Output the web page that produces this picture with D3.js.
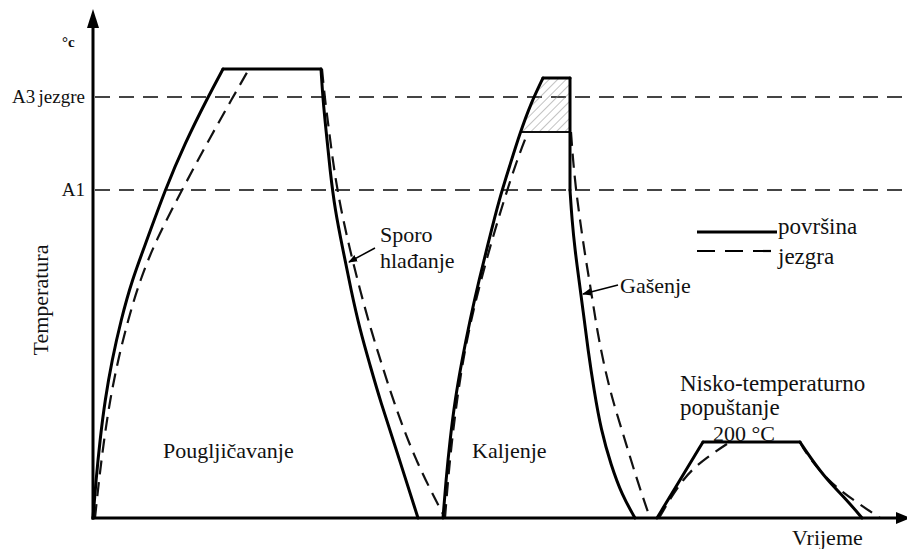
<!DOCTYPE html>
<html>
<head>
<meta charset="utf-8">
<script src="https://cdn.jsdelivr.net/npm/d3@7"></script>
<style>
  body { margin: 0; background: #fff; }
  svg { display: block; }
  text { font-family: "Liberation Serif", "Times New Roman", serif; fill: #111; }
</style>
</head>
<body>
<div id="chart"></div>
<script>
// vrijeme (t) i temperatura (T), u proizvoljnim jedinicama ocitanim sa slike
// površina = puna linija, jezgra = isprekidana
var povrsina = [
  // pougljičavanje
  [[0,0],[3,38],[7,78],[12,118],[19,158],[28,198],[39,238],[54,278],[72,328],[92,375],[115,421],[130,449]],
  [[130,449],[228,449]],
  [[228,449],[230,418],[233,388],[237,348],[242,308],[250,268],[258,228],[267,188],[277,153],[287,118],[305,63],[325,0]],
  // kaljenje
  [[350,0],[353,38],[357,78],[362,118],[369,158],[377,198],[386,238],[396,278],[406,318],[417,353],[427,385],[438,415],[450,440]],
  [[450,440],[477,440]],
  [[477,440],[477,328]],
  [[477,328],[479,298],[482,268],[486,238],[490,208],[495,168],[501,128],[508,88],[518,53],[529,23],[542,0]],
  // popuštanje
  [[564,0],[587,38],[610,76]],
  [[610,76],[707,76]],
  [[707,76],[717,61],[734,38],[754,18],[769,0]]
];
var jezgra = [
  [[2,0],[6,38],[11,78],[17,118],[25,158],[35,198],[47,238],[63,278],[89,328],[113,373],[140,421],[156,449]],
  [[156,449],[229,449]],
  [[229,449],[232,418],[236,388],[241,348],[248,308],[257,268],[267,228],[278,188],[289,153],[300,118],[322,58],[352,0]],
  [[352,0],[355,38],[359,78],[364,118],[370,158],[378,198],[388,238],[399,278],[411,318],[424,358],[435,386]],
  [[478,386],[480,358],[483,328],[487,298],[492,263],[498,228],[504,188],[512,148],[521,113],[532,78],[544,38],[557,0]],
  [[566,0],[590,41],[614,61],[637,76]],
  [[637,76],[707,76]],
  [[707,76],[712,66],[734,38],[760,18],[787,0]]
];
// jezgra dostigne samo ovu temperaturu pri kaljenju (šrafirano područje)
var kaljenjeJezgra = 386;
var kaljenjeVrh = 440;
var kaljenjeKraj = 477;
var kaljenjeRub = [[427,385],[438,415],[450,440]]; // lijevi rub šrafure (površina)

var granice = [
  { naziv: "A3 jezgre", T: 421 },
  { naziv: "A1", T: 328 }
];

var width = 907, height = 549;
var x0 = 93, y0 = 518;

var x = d3.scaleLinear().domain([0, 810]).range([x0, x0 + 810]);
var y = d3.scaleLinear().domain([0, 500]).range([y0, y0 - 500]);

var svg = d3.select("#chart").append("svg")
    .attr("width", width)
    .attr("height", height);

var defs = svg.append("defs");
var pat = defs.append("pattern")
    .attr("id", "srafura")
    .attr("patternUnits", "userSpaceOnUse")
    .attr("width", 6).attr("height", 6)
    .attr("patternTransform", "rotate(45)");
pat.append("line")
    .attr("x1", 0).attr("y1", 0).attr("x2", 0).attr("y2", 6)
    .attr("stroke", "#888").attr("stroke-width", 1);

// granicne linije A3, A1
svg.selectAll(".granica").data(granice).enter().append("line")
    .attr("class", "granica")
    .attr("x1", x0 + 2).attr("x2", width)
    .attr("y1", function(d) { return y(d.T); })
    .attr("y2", function(d) { return y(d.T); })
    .attr("stroke", "#444")
    .attr("stroke-width", 2)
    .attr("stroke-dasharray", "15,9");

svg.selectAll(".granicaTxt").data(granice).enter().append("text")
    .attr("x", x0 - 8)
    .attr("y", function(d) { return y(d.T) + 6; })
    .attr("text-anchor", "end")
    .style("font-size", "19px")
    .style("word-spacing", "-1.5px")
    .text(function(d) { return d.naziv; });

// šrafirano područje
var poly = kaljenjeRub.concat([[kaljenjeKraj, kaljenjeVrh], [kaljenjeKraj, kaljenjeJezgra]]);
svg.append("path")
    .attr("d", "M" + poly.map(function(p) { return x(p[0]) + "," + y(p[1]); }).join("L") + "Z")
    .attr("fill", "url(#srafura)")
    .attr("stroke", "none");
svg.append("line")
    .attr("x1", x(kaljenjeRub[0][0])).attr("x2", x(kaljenjeKraj))
    .attr("y1", y(kaljenjeJezgra)).attr("y2", y(kaljenjeJezgra))
    .attr("stroke", "#111").attr("stroke-width", 1.8);

var line = d3.line()
    .x(function(d) { return x(d[0]); })
    .y(function(d) { return y(d[1]); })
    .curve(d3.curveBasis);

svg.selectAll(".jezgra").data(jezgra).enter().append("path")
    .attr("class", "jezgra")
    .attr("d", line)
    .attr("fill", "none")
    .attr("stroke", "#111")
    .attr("stroke-width", 2.2)
    .attr("stroke-dasharray", "14,8");

svg.selectAll(".povrsina").data(povrsina).enter().append("path")
    .attr("class", "povrsina")
    .attr("d", line)
    .attr("fill", "none")
    .attr("stroke", "#000")
    .attr("stroke-width", 3)
    .attr("stroke-linecap", "round")
    .attr("stroke-linejoin", "round");

// osi
svg.append("line")
    .attr("x1", x0).attr("y1", y0 + 1.5).attr("x2", x0).attr("y2", 24)
    .attr("stroke", "#000").attr("stroke-width", 3);
svg.append("path")
    .attr("d", "M" + x0 + ",9 L" + (x0 - 6) + ",28 L" + (x0 + 6) + ",28 Z")
    .attr("fill", "#000");
svg.append("line")
    .attr("x1", x0 - 1.5).attr("y1", y0).attr("x2", 900).attr("y2", y0)
    .attr("stroke", "#000").attr("stroke-width", 3);
svg.append("path")
    .attr("d", "M911," + y0 + " L896," + (y0 - 6) + " L896," + (y0 + 6) + " Z")
    .attr("fill", "#000");

svg.append("text").attr("x", 62).attr("y", 47).style("font-size", "15px").style("font-weight", "bold").text("°c");
svg.append("text")
    .attr("transform", "translate(48,300) rotate(-90)")
    .attr("text-anchor", "middle")
    .style("font-size", "22px")
    .text("Temperatura");
svg.append("text").attr("x", 792).attr("y", 545).style("font-size", "22px").text("Vrijeme");

// natpisi
svg.append("text").attr("x", 163).attr("y", 458).style("font-size", "22px").text("Pougljičavanje");
svg.append("text").attr("x", 472).attr("y", 458).style("font-size", "22px").text("Kaljenje");
svg.append("text").attr("x", 380).attr("y", 242).style("font-size", "22px").text("Sporo");
svg.append("text").attr("x", 380).attr("y", 268).style("font-size", "22px").text("hlađanje");
svg.append("text").attr("x", 620).attr("y", 293).style("font-size", "22px").text("Gašenje");
svg.append("text").attr("x", 680).attr("y", 391).style("font-size", "23px").text("Nisko-temperaturno");
svg.append("text").attr("x", 680).attr("y", 415).style("font-size", "23px").text("popuštanje");
svg.append("text").attr("x", 713).attr("y", 441).style("font-size", "22px").text("200 °C");

// strelice do krivulja
defs.append("marker")
    .attr("id", "strelica")
    .attr("viewBox", "0 0 10 10")
    .attr("refX", 9).attr("refY", 5)
    .attr("markerWidth", 6).attr("markerHeight", 6)
    .attr("orient", "auto")
    .append("path").attr("d", "M0,1 L10,5 L0,9 Z").attr("fill", "#000");

svg.append("line")
    .attr("x1", 375).attr("y1", 248).attr("x2", 349).attr("y2", 262)
    .attr("stroke", "#000").attr("stroke-width", 1.5)
    .attr("marker-end", "url(#strelica)");
svg.append("line")
    .attr("x1", 618).attr("y1", 285).attr("x2", 583).attr("y2", 294)
    .attr("stroke", "#000").attr("stroke-width", 1.5)
    .attr("marker-end", "url(#strelica)");

// legenda
svg.append("line")
    .attr("x1", 697).attr("x2", 777).attr("y1", 232).attr("y2", 232)
    .attr("stroke", "#000").attr("stroke-width", 3);
svg.append("line")
    .attr("x1", 697).attr("x2", 777).attr("y1", 251).attr("y2", 251)
    .attr("stroke", "#000").attr("stroke-width", 2.2)
    .attr("stroke-dasharray", "18,10");
svg.append("text").attr("x", 778).attr("y", 234).style("font-size", "23px").text("površina");
svg.append("text").attr("x", 778).attr("y", 264).style("font-size", "23px").text("jezgra");
</script>
</body>
</html>
